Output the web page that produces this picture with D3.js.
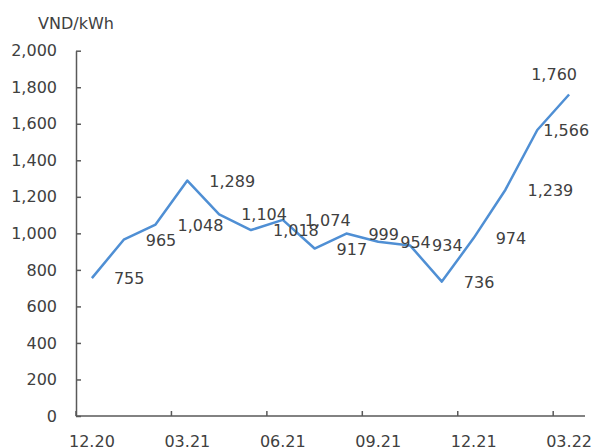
<!DOCTYPE html>
<html>
<head>
<meta charset="utf-8">
<script src="https://cdn.jsdelivr.net/npm/d3@7"></script>
<style>
  body { margin: 0; background: #fff; }
  svg text { font-family: "DejaVu Sans", Verdana, sans-serif; font-size: 16px; fill: #404040; }
</style>
</head>
<body>
<svg id="chart" width="592" height="448"></svg>
<script>
// thang (tháng.năm)
var months = ["12.20","01.21","02.21","03.21","04.21","05.21","06.21","07.21",
              "08.21","09.21","10.21","11.21","12.21","01.22","02.22","03.22"];
var prices = [755, 965, 1048, 1289, 1104, 1018, 1074, 917, 999, 954, 934, 736, 974, 1239, 1566, 1760];
var yTicks = [0, 200, 400, 600, 800, 1000, 1200, 1400, 1600, 1800, 2000];
var unitLabel = "VND/kWh";

var svg = d3.select("#chart");
var margemEsq = 76, margemDir = 585, margemTopo = 50.7, margemBase = 416;
var corAxis = "#595959";
var corLinha = "#4f8fd4";

var x = d3.scaleBand().domain(months).range([margemEsq, margemDir]).padding(0);
var y = d3.scaleLinear().domain([0, 2000]).range([margemBase, margemTopo]);

function cx(m){ return x(m) + x.bandwidth()/2; }

// eixo y
var gy = svg.append("g").attr("transform", "translate(" + margemEsq + ",0)")
  .call(d3.axisLeft(y).tickValues(yTicks).tickSizeInner(-5).tickSizeOuter(0)
        .tickFormat(d3.format(",")).tickPadding(19));
gy.select(".domain").attr("stroke", corAxis).attr("stroke-width", 1.5);
gy.selectAll(".tick line").attr("stroke", corAxis).attr("stroke-width", 1.5);
gy.selectAll(".tick text").attr("fill", "#404040").attr("font-size", 16)
  .attr("font-family", "DejaVu Sans, Verdana, sans-serif");

// eixo x - marcas entre categorias, a cada 3 meses
var tickMonths = months.filter(function(d, i){ return i % 3 == 0; });
var gx = svg.append("g").attr("transform", "translate(0," + margemBase + ")");
gx.append("line").attr("x1", margemEsq).attr("x2", margemDir).attr("y1", 0).attr("y2", 0)
  .attr("stroke", corAxis).attr("stroke-width", 1.5);
gx.selectAll("line.tk").data(tickMonths).enter().append("line").attr("class", "tk")
  .attr("x1", function(d){ return x(d); }).attr("x2", function(d){ return x(d); })
  .attr("y1", 0).attr("y2", -5)
  .attr("stroke", corAxis).attr("stroke-width", 1.5);
gx.selectAll("text").data(tickMonths).enter().append("text")
  .attr("x", function(d){ return cx(d); })
  .attr("y", 31)
  .attr("text-anchor", "middle")
  .text(function(d){ return d; });

// unidade
svg.append("text").attr("x", 38).attr("y", 29).text(unitLabel);

// linha
var line = d3.line().x(function(d, i){ return cx(months[i]); }).y(function(d){ return y(d); });
svg.append("path").datum(prices)
  .attr("d", line)
  .attr("fill", "none")
  .attr("stroke", corLinha)
  .attr("stroke-width", 2.5)
  .attr("stroke-linejoin", "round");

// rotulos (a direita do ponto; os dois ultimos foram movidos)
var fmt = d3.format(",");
svg.selectAll("text.lbl").data(prices).enter().append("text").attr("class", "lbl")
  .attr("x", function(d, i){
    if(i == 15) return cx(months[i]) - 15;
    if(i == 14) return cx(months[i]) + 6;
    return cx(months[i]) + 22;
  })
  .attr("y", function(d, i){
    if(i == 15) return y(d) - 21 + 6;
    return y(d) + 6;
  })
  .attr("text-anchor", function(d, i){ return i == 15 ? "middle" : "start"; })
  .text(function(d){ return fmt(d); });
</script>
</body>
</html>
